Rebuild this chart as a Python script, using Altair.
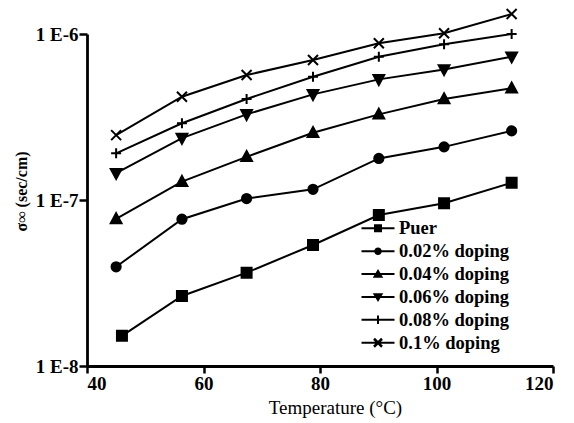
import altair as alt
import pandas as pd

series = ["Puer", "0.02% doping", "0.04% doping", "0.06% doping", "0.08% doping", "0.1% doping"]
temps = [45.0, 56.3, 67.4, 78.8, 90.1, 101.3, 112.9]
temps_puer = [46.0, 56.3, 67.4, 78.8, 90.1, 101.3, 112.9]

puer = [1.52e-8, 2.64e-8, 3.65e-8, 5.36e-8, 8.12e-8, 9.55e-8, 1.27e-7]
d002 = [3.96e-8, 7.66e-8, 1.02e-7, 1.16e-7, 1.78e-7, 2.09e-7, 2.61e-7]
d004 = [7.69e-8, 1.29e-7, 1.82e-7, 2.54e-7, 3.28e-7, 4.06e-7, 4.71e-7]
d006 = [1.45e-7, 2.36e-7, 3.28e-7, 4.33e-7, 5.33e-7, 6.12e-7, 7.30e-7]
d008 = [1.91e-7, 2.90e-7, 4.06e-7, 5.53e-7, 7.30e-7, 8.67e-7, 1.0e-6]
d010 = [2.46e-7, 4.19e-7, 5.66e-7, 6.97e-7, 8.79e-7, 1.01e-6, 1.32e-6]

x_ticks = [40, 60, 80, 100, 120]
y_ticks = [1e-8, 1e-7, 1e-6]

values = [puer, d002, d004, d006, d008, d010]
rows = []
for name, vals in zip(series, values):
    xs = temps_puer if name == "Puer" else temps
    for t, v in zip(xs, vals):
        rows.append({"series": name, "temp": t, "sigma": v})
df = pd.DataFrame(rows)

# marker shapes in the plot (unit square paths)
plot_shapes = [
    "M-1,-1H1V1H-1Z",
    "M0.92,0A0.92,0.92,0,1,1,-0.92,0A0.92,0.92,0,1,1,0.92,0Z",
    "M0,-1.15L1.08,0.85L-1.08,0.85Z",
    "M0,1.15L1.08,-0.85L-1.08,-0.85Z",
    "M-1,0H1M0,-1V1",
    "M-1,-1L1,1M-1,1L1,-1",
]
# legend symbols: filled line segment plus filled marker (all clockwise)
LINE = "M-3.3,-0.2H3.3V0.2H-3.3Z"
legend_shapes = [
    LINE + "M-0.8,-0.8H0.8V0.8H-0.8Z",
    LINE + "M0.75,0A0.75,0.75,0,1,1,-0.75,0A0.75,0.75,0,1,1,0.75,0Z",
    LINE + "M0,-1L1.05,0.75L-1.05,0.75Z",
    LINE + "M0,1L-1.05,-0.75L1.05,-0.75Z",
    LINE + "M-0.2,-0.85H0.2V0.85H-0.2Z",
    LINE + "M-0.623,-0.977L0.977,0.623L0.623,0.977L-0.977,-0.623Z"
    "M0.977,-0.623L-0.623,0.977L-0.977,0.623L0.623,-0.977Z",
]

FONT = "Liberation Serif"

x_enc = alt.X(
    "temp:Q",
    scale=alt.Scale(domain=[40, 120], nice=False, zero=False),
    axis=alt.Axis(
        values=x_ticks, grid=False, domainColor="black", domainWidth=2.8,
        tickColor="black", tickWidth=2.5, tickSize=7,
        labelFont=FONT, labelFontSize=19, labelFontWeight="bold", labelColor="black",
        labelPadding=1, title="Temperature (°C)", titleFont=FONT, titleFontSize=19,
        titleFontWeight="normal", titleColor="black", titleX=248, titleY=47,
        titleAlign="center", titleBaseline="alphabetic",
    ),
)
y_enc = alt.Y(
    "sigma:Q",
    scale=alt.Scale(type="log", domain=[1e-8, 1e-6], nice=False),
    axis=alt.Axis(
        values=y_ticks, grid=False, domainColor="black", domainWidth=2.8,
        tickColor="black", tickWidth=2.5, tickSize=8,
        labelExpr="'1 E' + round(log(datum.value) / LN10)",
        labelFont=FONT, labelFontSize=19, labelFontWeight="bold", labelColor="black",
        labelPadding=1, title="σ∞ (sec/cm)", titleFont=FONT, titleFontSize=16,
        titleFontWeight="bold", titleColor="black", titleAngle=270, titleX=-66,
        titleY=157, titleAlign="center", titleBaseline="middle",
    ),
)

base = alt.Chart(df)

lines = base.mark_line(color="black", strokeWidth=2).encode(
    x=x_enc, y=y_enc, detail="series:N"
)

markers = base.mark_point(
    filled=True, fill="black", stroke="black", strokeWidth=2, size=100, opacity=1
).encode(
    x=x_enc, y=y_enc,
    shape=alt.Shape("series:N", scale=alt.Scale(domain=series, range=plot_shapes), legend=None),
)

legend_layer = base.transform_filter("false").mark_point(
    filled=True, fill="black", size=100
).encode(
    x=x_enc, y=y_enc,
    shape=alt.Shape(
        "series:N",
        scale=alt.Scale(domain=series, range=legend_shapes),
        legend=alt.Legend(
            title=None, orient="none", legendX=281.75, legendY=185, padding=0,
            labelFont=FONT, labelFontSize=18.5, labelFontWeight="bold", labelColor="black",
            labelOffset=11.75, symbolSize=100, symbolStrokeWidth=0,
            symbolFillColor="black", symbolOpacity=1,
            rowPadding=3.9,
        ),
    ),
)

chart = (
    alt.layer(lines, markers, legend_layer)
    .resolve_scale(shape="independent")
    .properties(
        width=466, height=332, autosize="none",
        padding={"left": 87, "top": 34, "right": 21, "bottom": 57},
        background="white",
    )
    .configure_view(stroke="transparent")
)

chart.save("out.html", embed_options={"renderer": "svg", "actions": False})
